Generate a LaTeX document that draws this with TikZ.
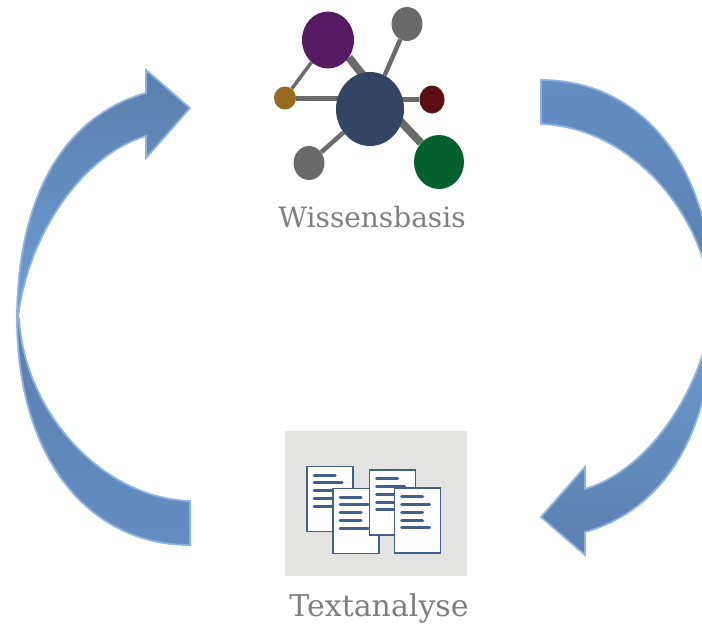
\documentclass[tikz,border=0pt]{standalone}
\usepackage{fontspec}
\setmainfont{DejaVu Serif}
\usetikzlibrary{calc,shapes.geometric,backgrounds}
\definecolor{bandline}{HTML}{8DB3E2}
\definecolor{banddark}{HTML}{5A7FAD}
\definecolor{bandlight}{HTML}{6F9CD3}
\definecolor{bandmid}{HTML}{648EC3}
\definecolor{edgegray}{HTML}{6B6B6B}
\definecolor{docblue}{HTML}{41608F}
\definecolor{docback}{HTML}{E3E3E1}
\definecolor{labelgray}{HTML}{7F7F7F}
\definecolor{HubBlue}{HTML}{344563}
\definecolor{PurpleBlob}{HTML}{561A63}
\definecolor{GrayBlob}{HTML}{6A6A6A}
\definecolor{BrownBlob}{HTML}{96691E}
\definecolor{RedBlob}{HTML}{5E0F14}
\definecolor{GreenBlob}{HTML}{04602C}
\tikzset{
  band/.style={draw=bandline,line width=1.8pt,line join=miter},
  blob/.style={ellipse,inner sep=0pt,draw=none},
  link/.style={draw=edgegray,line width=#1},
  docnode/.style={rectangle,draw=docblue,fill=white,line width=1.7pt,inner sep=0pt,minimum width=46pt,minimum height=65pt},
  docbar/.style={docblue,line width=3.2pt,line cap=round},
  caption/.style={text=labelgray,inner sep=0pt}
}
\newcommand{\blobnode}[6]{\node[blob,fill=#6,minimum width=#4pt,minimum height=#5pt] (#1) at (#2,#3) {};}
\newcommand{\docpage}[3]{
  \node[docnode] (#1) at (#2,#3) {};
  \foreach \yb/\lb in {9.5/21,17/28,25/21,33/21,40.5/28} {
    \draw[docbar] ([shift={(8,\yb)}]#1.north west) -- ++(\lb,0);
  }
}
% #1,#2 head piece top/bottom colour, #3,#4 tail piece top/bottom colour
\newcommand{\cyclearrow}[4]{
  \shade[band,top color=#1,bottom color=#2]
    (17,317) .. controls (18,190) and (68,115) .. (146,93) -- (146,70) -- (190,108)
    -- (146,158) -- (146,136) .. controls (82,155) and (28,235) .. (18,317) -- cycle;
  \shade[band,top color=#3,bottom color=#4]
    (17,317) .. controls (17,460) and (90,545) .. (190,545) -- (190,501)
    .. controls (100,498) and (24,410) .. (19,318) -- cycle;
}

\begin{document}
\begin{tikzpicture}[x=1pt,y=-1pt]
    \path[use as bounding box] (0,0) rectangle (702,625);

    % the two bands
    \begin{scope}
      \cyclearrow{banddark}{bandlight}{banddark}{bandmid}
    \end{scope}
    \begin{scope}[rotate around={180:(365.5,312.5)}]
      \cyclearrow{bandlight}{banddark}{bandmid}{banddark}
    \end{scope}

    % knowledge graph
    \blobnode{hub}{370}{109}{68}{74}{HubBlue}
    \blobnode{purple}{328}{40}{52}{57}{PurpleBlob}
    \blobnode{graytop}{407}{24}{31}{34}{GrayBlob}
    \blobnode{brown}{285}{98}{22}{23}{BrownBlob}
    \blobnode{darkred}{432}{99.5}{25}{28}{RedBlob}
    \blobnode{green}{439}{162}{50}{54}{GreenBlob}
    \blobnode{graylow}{309}{163}{31}{34}{GrayBlob}
    \begin{scope}[on background layer]
      \draw[link=8pt] (purple.-40) -- ([shift={(0,-25)}]hub.center);
      \draw[link=4.5pt] (hub) -- (graytop);
      \draw[link=5pt] (brown) -- (brown -| hub);
      \draw[link=5pt] (darkred) -- (darkred -| hub);
      \draw[link=8pt] (green) -- ([shift={(0,-20)}]hub.center);
      \draw[link=4.5pt] (hub) -- (graylow);
      \draw[link=3.5pt] (brown) -- (purple);
    \end{scope}
    \node[caption,font=\fontsize{28}{32}\selectfont] (wissen) at (372,217.5) {Wissensbasis};

    % documents
    \fill[docback] (285,431) rectangle (467,576);
    \docpage{docA}{330}{499}
    \docpage{docB}{356}{521}
    \docpage{docC}{392.5}{502.5}
    \docpage{docD}{417.5}{520.5}
    \node[caption,font=\fontsize{30}{34}\selectfont] (textan) at (379,608.5) {Textanalyse};
\end{tikzpicture}
\end{document}
